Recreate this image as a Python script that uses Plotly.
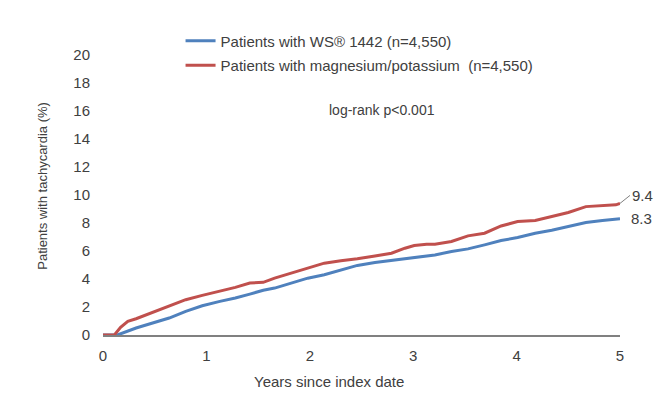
import plotly.graph_objects as go

# ---- data ----
years_ws = [0, 0.14, 0.32, 0.48, 0.64, 0.80, 0.96, 1.13, 1.28, 1.42, 1.55, 1.66, 1.82, 1.98,
            2.14, 2.30, 2.46, 2.63, 2.79, 2.92, 3.08, 3.21, 3.37, 3.53, 3.69, 3.85, 4.01,
            4.18, 4.34, 4.50, 4.67, 4.83, 5.0]
pct_ws = [0, 0, 0.50, 0.86, 1.21, 1.69, 2.09, 2.40, 2.64, 2.92, 3.20, 3.35, 3.71, 4.06,
          4.30, 4.65, 4.97, 5.18, 5.32, 5.44, 5.56, 5.72, 5.96, 6.15, 6.44, 6.75, 6.96,
          7.27, 7.48, 7.75, 8.03, 8.18, 8.3]

years_mg = [0, 0.11, 0.17, 0.24, 0.32, 0.48, 0.64, 0.80, 0.96, 1.13, 1.28, 1.42, 1.55, 1.66,
            1.82, 1.98, 2.14, 2.30, 2.46, 2.63, 2.79, 2.92, 3.01, 3.13, 3.21, 3.37, 3.53,
            3.69, 3.85, 4.01, 4.18, 4.34, 4.50, 4.67, 4.83, 4.96, 5.0]
pct_mg = [0, 0, 0.55, 0.98, 1.16, 1.62, 2.05, 2.52, 2.83, 3.11, 3.40, 3.71, 3.76, 4.06,
          4.42, 4.78, 5.13, 5.30, 5.44, 5.65, 5.84, 6.20, 6.39, 6.48, 6.49, 6.68, 7.08,
          7.27, 7.79, 8.10, 8.18, 8.46, 8.75, 9.17, 9.25, 9.30, 9.4]

series_names = ["Patients with WS® 1442 (n=4,550)",
                "Patients with magnesium/potassium  (n=4,550)"]
x_ticks = [0, 1, 2, 3, 4, 5]
y_ticks = [0, 2, 4, 6, 8, 10, 12, 14, 16, 18, 20]
end_labels = ["8.3", "9.4"]

BLUE = "#4F81BD"
RED = "#C0504D"
TXT = "#404040"
FONT = "Liberation Sans, Arial, sans-serif"

fig = go.Figure()
fig.add_trace(go.Scatter(x=years_ws, y=pct_ws, mode="lines", name=series_names[0],
                         legendgroup="ws", line=dict(color=BLUE, width=3)))
fig.add_trace(go.Scatter(x=years_mg, y=pct_mg, mode="lines", name=series_names[1],
                         legendgroup="mg", line=dict(color=RED, width=3)))

fig.update_layout(
    width=669, height=402,
    margin=dict(l=95, r=57, t=47, b=75),
    paper_bgcolor="white", plot_bgcolor="white",
    font=dict(family=FONT, size=15, color=TXT),
    showlegend=True,
    legend=dict(x=0.15, y=1.109, xanchor="left", yanchor="top",
                bgcolor="rgba(0,0,0,0)", font=dict(size=15, color=TXT),
                tracegroupgap=2, itemwidth=30),
)
fig.update_xaxes(range=[0, 5], tickvals=x_ticks, ticktext=[str(v) for v in x_ticks],
                 showgrid=False, zeroline=False, showline=True, linecolor="#808080",
                 linewidth=1.5, ticks="", ticklabelstandoff=6,
                 tickfont=dict(size=15, color=TXT))
fig.update_yaxes(range=[0, 20], tickvals=y_ticks, ticktext=[str(v) for v in y_ticks],
                 showgrid=False, zeroline=False, showline=False, ticks="",
                 ticklabelstandoff=12, tickfont=dict(size=15, color=TXT))

# axis titles
fig.add_annotation(text="Years since index date", xref="paper", yref="paper",
                   x=0.437, y=0, yshift=-46, showarrow=False, xanchor="center",
                   yanchor="middle", font=dict(size=15, color=TXT))
fig.add_annotation(text="Patients with tachycardia (%)", xref="paper", yref="paper",
                   x=0, xshift=-60, y=0.533, textangle=-90, showarrow=False,
                   xanchor="center", yanchor="middle", font=dict(size=13, color=TXT))
fig.add_annotation(text="log-rank p<0.001", xref="paper", yref="paper",
                   x=0.54, y=0.803, showarrow=False, xanchor="center", yanchor="middle",
                   font=dict(size=14, color=TXT))

# end labels
fig.add_annotation(text=end_labels[1], x=years_mg[-1], y=pct_mg[-1], xref="x", yref="y",
                   showarrow=True, arrowhead=0, arrowwidth=1, arrowcolor="#808080",
                   ax=10, ay=-8, xanchor="left", yanchor="middle",
                   font=dict(size=15, color=TXT))
fig.add_annotation(text=end_labels[0], x=years_ws[-1], y=pct_ws[-1], xref="x", yref="y",
                   showarrow=False, xshift=9, xanchor="left", yanchor="middle",
                   font=dict(size=15, color=TXT))

fig.write_html("out.html")
